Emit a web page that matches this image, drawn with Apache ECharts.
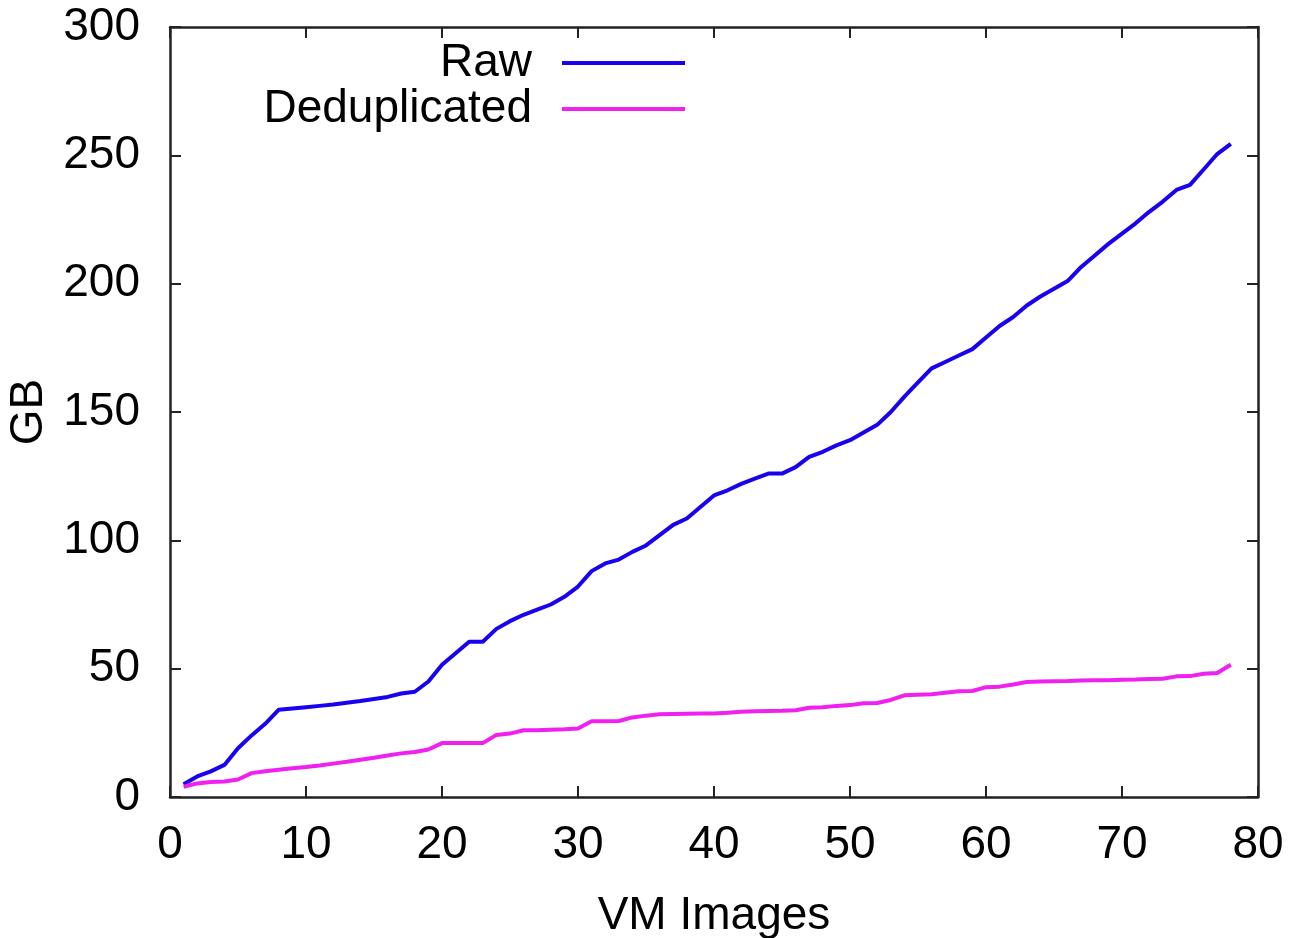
<!DOCTYPE html>
<html>
<head>
<meta charset="utf-8">
<script src="https://cdn.jsdelivr.net/npm/echarts@6/dist/echarts.min.js"></script>
<style>
  html, body { margin: 0; padding: 0; background: #fff; }
  #chart { width: 1293px; height: 938px; }
</style>
</head>
<body>
<div id="chart"></div>
<script>
// VM image index 1..78
const vmImages = [];
for (let i = 1; i <= 78; i++) vmImages.push(i);

const rawGB = [
    5, 8, 10, 12.5, 19, 24, 28.5, 34, 34.5, 35,
    35.5, 36, 36.7, 37.4, 38.2, 39, 40.3, 41, 45, 51.5,
    56, 60.5, 60.5, 65.5, 68.5, 71, 73, 75, 78, 82,
    88, 91, 92.5, 95.5, 98, 102, 106, 108.5, 113, 117.5,
    119.5, 122, 124, 126, 126, 128.5, 132.5, 134.5, 137, 139,
    142, 145, 150, 156, 161.5, 167, 169.5, 172, 174.5, 179,
    183.5, 187, 191.5, 195, 198, 201, 206.5, 211, 215.5, 219.5,
    223.5, 228, 232, 236.5, 238.5, 244.5, 250.5, 254.5
];

const dedupGB = [
    4, 5.3, 5.8, 6, 6.8, 9.3, 10, 10.6, 11.2, 11.7,
    12.3, 13, 13.7, 14.5, 15.3, 16.2, 17, 17.5, 18.5, 21,
    21, 21, 21, 24.2, 24.7, 26, 26, 26.2, 26.4, 26.7,
    29.5, 29.5, 29.6, 31, 31.7, 32.2, 32.3, 32.4, 32.5, 32.5,
    32.8, 33.2, 33.4, 33.5, 33.6, 33.8, 34.8, 35, 35.5, 35.8,
    36.5, 36.6, 37.8, 39.6, 39.8, 40, 40.6, 41.2, 41.3, 42.8,
    43, 43.8, 44.8, 45, 45.1, 45.2, 45.4, 45.5, 45.5, 45.7,
    45.8, 46, 46.1, 47, 47.1, 48, 48.3, 51.5
];

const font = '"Liberation Sans", Arial, sans-serif';
const fontSize = 46;
const axisColor = '#222';

function pairs(ys) {
    return ys.map(function (y, i) { return [vmImages[i], y]; });
}

const chart = echarts.init(document.getElementById('chart'), null, { renderer: 'canvas' });

const baseAxis = {
    axisLine: { show: true, onZero: false, lineStyle: { color: axisColor, width: 2.5 } },
    axisTick: { show: true, inside: true, length: 11, lineStyle: { color: axisColor, width: 2 } },
    splitLine: { show: false }
};

function legendFor(name, top) {
    return {
        data: [name],
        right: 603,
        top: top,
        align: 'right',
        orient: 'vertical',
        icon: 'rect',
        itemWidth: 123,
        itemHeight: 4,
        selectedMode: false,
        textStyle: { fontFamily: font, fontSize: fontSize, color: '#000', lineHeight: 48, padding: [0, 25, 0, 0] }
    };
}

const option = {
    animation: false,
    backgroundColor: '#fff',
    grid: { left: 170, right: 35, top: 27, bottom: 141, outerBoundsMode: 'none', containLabel: false },
    legend: [legendFor('Raw', 34), legendFor('Deduplicated', 80)],
    xAxis: [
        Object.assign({}, baseAxis, {
            type: 'value', min: 0, max: 80, interval: 10, position: 'bottom',
            name: 'VM Images', nameLocation: 'middle', nameGap: 96,
            nameTextStyle: { fontFamily: font, fontSize: fontSize, color: '#000' },
            axisLabel: { fontFamily: font, fontSize: fontSize, color: '#000', margin: 25 }
        }),
        Object.assign({}, baseAxis, {
            type: 'value', min: 0, max: 80, interval: 10, position: 'top',
            axisLabel: { show: false }
        })
    ],
    yAxis: [
        Object.assign({}, baseAxis, {
            type: 'value', min: 0, max: 300, interval: 50, position: 'left',
            name: 'GB', nameLocation: 'middle', nameGap: 112, nameRotate: 90,
            nameTextStyle: { fontFamily: font, fontSize: fontSize, color: '#000' },
            axisLabel: { fontFamily: font, fontSize: fontSize, color: '#000', margin: 30 }
        }),
        Object.assign({}, baseAxis, {
            type: 'value', min: 0, max: 300, interval: 50, position: 'right',
            axisLabel: { show: false }
        })
    ],
    series: [
        {
            name: 'Raw', type: 'line', xAxisIndex: 0, yAxisIndex: 0,
            data: pairs(rawGB), showSymbol: false,
            lineStyle: { color: '#1a00f0', width: 4 },
            itemStyle: { color: '#1a00f0' }
        },
        {
            name: 'Deduplicated', type: 'line', xAxisIndex: 0, yAxisIndex: 0,
            data: pairs(dedupGB), showSymbol: false,
            lineStyle: { color: '#f020f0', width: 4 },
            itemStyle: { color: '#f020f0' }
        }
    ]
};

chart.setOption(option);
</script>
</body>
</html>
